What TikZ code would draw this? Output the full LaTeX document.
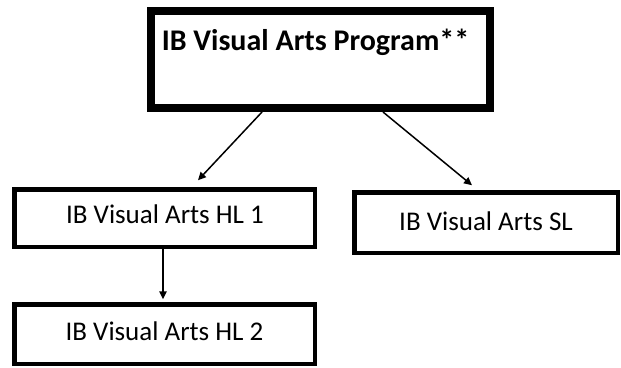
\documentclass[tikz,border=0pt]{standalone}
\usepackage{fontspec}
\setmainfont{Carlito}
\usetikzlibrary{arrows.meta}
\tikzset{
  boxnode/.style={draw=black, line width=4.5pt, rectangle, inner sep=0pt, outer sep=0pt, fill=white},
  topbox/.style={draw=black, line width=8pt, rectangle, inner sep=0pt, outer sep=0pt, fill=white},
  lbl/.style={anchor=base, inner sep=0pt, font=\fontsize{27}{30}\selectfont},
  toplbl/.style={anchor=base, inner sep=0pt, font=\fontsize{30}{33}\selectfont\bfseries},
  conn/.style={line width=1.5pt, -{Triangle[length=8pt,width=7.5pt]}}
}
\begin{document}
\begin{tikzpicture}[x=1pt,y=-1pt]
\useasboundingbox (0,0) rectangle (621,367);
\node[topbox, minimum width=339pt, minimum height=97pt] (top) at (320.5,59.5) {};
\node[toplbl] (toptext) at (315.5,50) {IB Visual Arts Program**};
\node[boxnode, minimum width=300.5pt, minimum height=57.5pt] (hl1) at (164.5,218) {};
\node[lbl] (hl1text) at (165,223) {IB Visual Arts HL 1};
\node[boxnode, minimum width=300.5pt, minimum height=59.5pt] (hl2) at (164.5,334) {};
\node[lbl] (hl2text) at (164.5,340) {IB Visual Arts HL 2};
\node[boxnode, minimum width=263.5pt, minimum height=60.5pt] (sl) at (486,222.5) {};
\node[lbl] (sltext) at (486,230) {IB Visual Arts SL};
\coordinate (tipA) at ([xshift=33.5pt, yshift=9pt]hl1.north);
\coordinate (tipB) at ([xshift=-14pt, yshift=7pt]sl.north);
\coordinate (tipC) at ([xshift=-1.5pt, yshift=5pt]hl2.north);
\draw[conn] ([xshift=-58.5pt, yshift=-4pt]top.south) -- (tipA);
\draw[conn] ([xshift=62.5pt, yshift=-4pt]top.south) -- (tipB);
\draw[conn] ([xshift=-1.5pt, yshift=-2.25pt]hl1.south) -- (tipC);
\end{tikzpicture}
\end{document}
